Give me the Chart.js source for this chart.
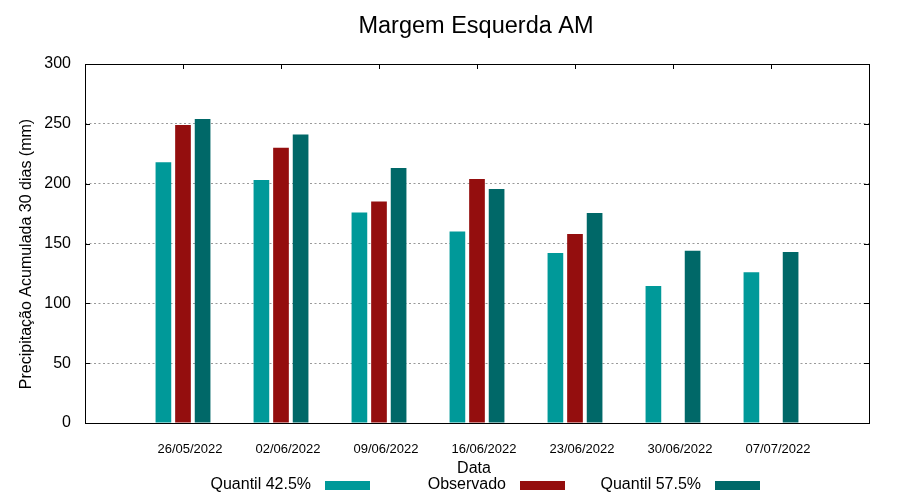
<!DOCTYPE html>
<html>
<head>
<meta charset="utf-8">
<title>Margem Esquerda AM</title>
<script src="https://cdn.jsdelivr.net/npm/chart.js@4/dist/chart.umd.min.js"></script>
<style>
  html, body { margin: 0; padding: 0; background: #fff; }
  #wrap { width: 900px; height: 500px; }
</style>
</head>
<body>
<div id="wrap"><canvas id="chart" width="900" height="500"></canvas></div>
<script>
// ---- data ----
const dates      = ["26/05/2022", "02/06/2022", "09/06/2022", "16/06/2022", "23/06/2022", "30/06/2022", "07/07/2022"];
const quantil425 = [218, 203, 176, 160, 142, 114.5, 126];
const observado  = [249, 230, 185, 204, 158, null, null];
const quantil575 = [254, 241, 213, 195.5, 175.5, 144, 143];
const yTicks     = [0, 50, 100, 150, 200, 250, 300];

const FONT = "'Liberation Sans', Arial, sans-serif";

function toPoints(values) {
    return values.map((v, i) => ({ x: i, y: v }));
}

// gnuplot-like frame, inward ticks, titles and legend
const frameAndText = {
    id: "frameAndText",
    afterDraw(chart) {
        const ctx = chart.ctx;
        const a = chart.chartArea;
        const xs = chart.scales.x;
        const ys = chart.scales.y;

        ctx.save();
        ctx.strokeStyle = "#000";
        ctx.lineWidth = 1;
        ctx.strokeRect(Math.round(a.left) + 0.5, Math.round(a.top) + 0.5,
                       Math.round(a.right - a.left), Math.round(a.bottom - a.top));

        // inward ticks: left/right for y, top for x
        ctx.beginPath();
        yTicks.forEach(v => {
            const y = Math.round(ys.getPixelForValue(v)) + 0.5;
            ctx.moveTo(a.left, y);  ctx.lineTo(a.left + 5, y);
            ctx.moveTo(a.right, y); ctx.lineTo(a.right - 5, y);
        });
        dates.forEach((d, i) => {
            const x = Math.round(xs.getPixelForValue(i)) + 0.5;
            ctx.moveTo(x, a.top); ctx.lineTo(x, a.top + 5);
        });
        ctx.stroke();

        ctx.fillStyle = "#000";

        // title
        ctx.font = "23.5px " + FONT;
        ctx.textAlign = "center";
        ctx.textBaseline = "alphabetic";
        ctx.fillText("Margem Esquerda AM", 476, 33);

        // x axis title
        ctx.font = "16px " + FONT;
        ctx.fillText("Data", 474, 473);

        // y axis title
        ctx.save();
        ctx.translate(31, 254);
        ctx.rotate(-Math.PI / 2);
        ctx.fillText("Precipitação Acumulada 30 dias (mm)", 0, 0);
        ctx.restore();

        // legend: text then colour sample
        chart.data.datasets.forEach((ds, i) => {
            const boxLeft = 325 + i * 195;
            ctx.textAlign = "right";
            ctx.fillStyle = "#000";
            ctx.fillText(ds.label, boxLeft - 14, 489);
            ctx.fillStyle = ds.backgroundColor;
            ctx.fillRect(boxLeft, 481, 45, 9);
        });

        ctx.restore();
    }
};

new Chart(document.getElementById("chart"), {
    type: "bar",
    data: {
        datasets: [
            { label: "Quantil 42.5%", data: toPoints(quantil425), backgroundColor: "rgb(0,153,153)" },
            { label: "Observado",     data: toPoints(observado),  backgroundColor: "rgb(148,14,14)" },
            { label: "Quantil 57.5%", data: toPoints(quantil575), backgroundColor: "rgb(0,104,104)" }
        ]
    },
    options: {
        responsive: false,
        animation: false,
        events: [],
        layout: { padding: { top: 64, right: 31, bottom: 0, left: 0 } },
        datasets: { bar: { categoryPercentage: 0.6, barPercentage: 0.8 } },
        plugins: {
            legend: { display: false },
            title: { display: false },
            tooltip: { enabled: false }
        },
        scales: {
            x: {
                type: "linear",
                min: -1,
                max: 7,
                offset: false,
                afterFit: s => { s.height = 77; },
                grid: { display: false, drawTicks: false },
                border: { display: false },
                ticks: {
                    stepSize: 1,
                    autoSkip: false,
                    maxRotation: 0,
                    padding: 19,
                    labelOffset: 7,
                    color: "#000",
                    font: { family: FONT, size: 13 },
                    callback: v => dates[v] || ""
                }
            },
            y: {
                min: 0,
                max: 300,
                afterFit: s => { s.width = 85; },
                grid: {
                    color: "#999999",
                    drawTicks: false,
                    lineWidth: 1
                },
                border: { display: false, dash: [2, 2.5] },
                ticks: {
                    stepSize: 50,
                    padding: 14,
                    color: "#000",
                    font: { family: FONT, size: 16 }
                }
            }
        }
    },
    plugins: [frameAndText]
});
</script>
</body>
</html>
